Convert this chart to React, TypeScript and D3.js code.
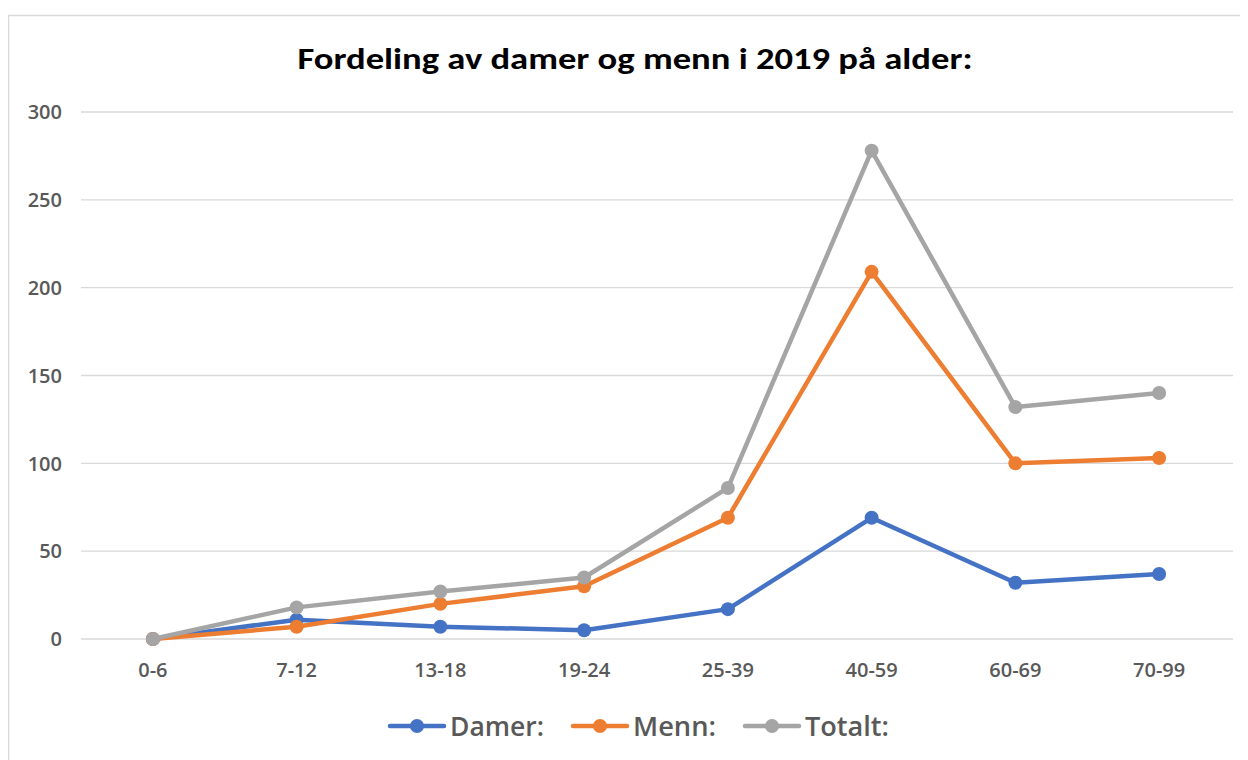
import React from "react";
import * as d3 from "d3";

const categories = ["0-6", "7-12", "13-18", "19-24", "25-39", "40-59", "60-69", "70-99"];
const damer = [0, 11, 7, 5, 17, 69, 32, 37];
const menn = [0, 7, 20, 30, 69, 209, 100, 103];
const totalt = [0, 18, 27, 35, 86, 278, 132, 140];
const yTicks = [0, 50, 100, 150, 200, 250, 300];

const series = [
  { name: "Damer:", values: damer, color: "#4472C4" },
  { name: "Menn:", values: menn, color: "#ED7D31" },
  { name: "Totalt:", values: totalt, color: "#A5A5A5" },
];

const App = () => {
  const w = 1240;
  const h = 752;
  const margin = { top: 104, right: 17, bottom: 121, left: 73 };

  const x = d3
    .scaleBand()
    .domain(categories)
    .range([margin.left, w - margin.right]);

  const y = d3
    .scaleLinear()
    .domain([0, 300])
    .range([h - margin.bottom, margin.top]);

  const cx = (i: number) => x(categories[i])! + x.bandwidth() / 2;

  const line = d3
    .line<number>()
    .x((_, i) => cx(i))
    .y((d) => y(d));

  const titleFont = "Carlito, Lato, 'Liberation Sans', sans-serif";
  const font = "'Open Sans', 'Noto Sans', sans-serif";

  // legend positions (x of the line start)
  const legendX = [382, 565, 737];
  const legendTextW = [94, 83, 84];

  return (
    <svg width={w} height={h} style={{ display: "block", background: "#fff" }}>
      <rect x={0.5} y={7.5} width={1300} height={800} fill="#fff" stroke="#d9d9d9" strokeWidth={1.5} />
      <text
        x={627}
        y={61}
        textAnchor="middle"
        fontFamily={titleFont}
        fontWeight="bold"
        fontSize={30}
        fill="#000"
        textLength={675}
        lengthAdjust="spacingAndGlyphs"
      >
        Fordeling av damer og menn i 2019 på alder:
      </text>

      {/* grid + y labels */}
      {yTicks.map((t) => (
        <g key={t}>
          <line x1={margin.left} x2={w - margin.right + 2} y1={y(t)} y2={y(t)} stroke="#d9d9d9" strokeWidth={1.3} />
          <text
            x={54}
            y={y(t)}
            dy="0.36em"
            textAnchor="end"
            fontFamily={font}
            fontWeight={600}
            fontSize={20}
            fill="#595959"
          >
            {t}
          </text>
        </g>
      ))}

      {/* x labels */}
      {categories.map((c) => (
        <text
          key={c}
          x={x(c)! + x.bandwidth() / 2}
          y={y(0) + 38}
          textAnchor="middle"
          fontFamily={font}
          fontWeight={600}
          fontSize={20}
          fill="#595959"
        >
          {c}
        </text>
      ))}

      {/* series */}
      {series.map((s) => (
        <g key={s.name}>
          <path d={line(s.values)!} fill="none" stroke={s.color} strokeWidth={4.5} strokeLinejoin="round" strokeLinecap="round" />
          {s.values.map((v, i) => (
            <circle key={i} cx={cx(i)} cy={y(v)} r={7} fill={s.color} />
          ))}
        </g>
      ))}

      {/* legend */}
      {series.map((s, i) => (
        <g key={s.name} transform={`translate(${legendX[i]}, 718)`}>
          <line x1={0} x2={54} y1={0} y2={0} stroke={s.color} strokeWidth={4.5} strokeLinecap="round" />
          <circle cx={27} cy={0} r={7} fill={s.color} />
          <text
            x={60}
            y={0}
            dy="0.36em"
            fontFamily={font}
            fontWeight={600}
            fontSize={27}
            fill="#595959"
            textLength={legendTextW[i]}
            lengthAdjust="spacingAndGlyphs"
          >
            {s.name}
          </text>
        </g>
      ))}
    </svg>
  );
};

export default App;
